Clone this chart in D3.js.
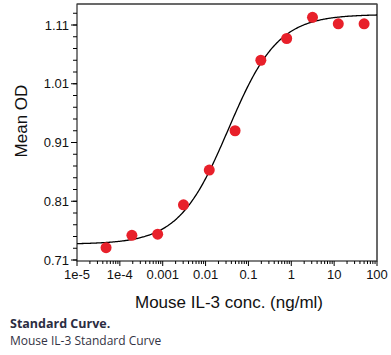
<!DOCTYPE html>
<html><head><meta charset="utf-8">
<script src="https://cdn.jsdelivr.net/npm/d3@7"></script>
<style>
body{margin:0;background:#fff;}
svg{display:block;}
</style></head>
<body>
<svg id="chart" width="391" height="355"></svg>
<script>
// Data
const concentrations = [0.0000477, 0.000191, 0.000763, 0.00305, 0.0122, 0.0488, 0.195, 0.781, 3.125, 12.5, 50];
const meanOD = [0.731, 0.752, 0.754, 0.804, 0.863, 0.930, 1.050, 1.087, 1.123, 1.112, 1.112];
const yTickValues = [0.71, 0.81, 0.91, 1.01, 1.11];
const xTickValues = [1e-5, 1e-4, 1e-3, 1e-2, 1e-1, 1, 10, 100];
const xTickLabels = ["1e-5", "1e-4", "0.001", "0.01", "0.1", "1", "10", "100"];
// 4-parameter logistic fit
const fitBottom = 0.737, fitTop = 1.128, fitEC50 = 0.034, fitHill = 0.75;

const svg = d3.select("#chart");
const pLeft = 77, pRight = 377, pTop = 4, pBottom = 261;

const x = d3.scaleLog().domain([1e-5, 100]).range([pLeft, pRight]);
const y = d3.scaleLinear().domain([0.71, 1.11]).range([260, 25]);
const yMin = y.invert(pBottom), yMax = y.invert(pTop);

// frame
svg.append("rect").attr("x", pLeft).attr("y", pTop).attr("width", pRight - pLeft).attr("height", pBottom - pTop)
  .attr("fill", "none").attr("stroke", "#000").attr("stroke-width", 1);
svg.append("line").attr("x1", pLeft).attr("x2", pRight).attr("y1", pTop).attr("y2", pTop).attr("stroke", "#555");
svg.append("line").attr("x1", pRight).attr("x2", pRight).attr("y1", pTop).attr("y2", pBottom).attr("stroke", "#555");

// y axis
const yMinor = d3.range(0.71, 1.15, 0.02).filter(v => v >= yMin && v <= yMax);
const yAxis = svg.append("g").attr("transform", `translate(${pLeft},0)`);
yAxis.selectAll("line.minor").data(yMinor).join("line")
  .attr("x1", -4).attr("x2", 0).attr("y1", d => y(d)).attr("y2", d => y(d)).attr("stroke", "#000");
yAxis.selectAll("line.major").data(yTickValues).join("line")
  .attr("x1", -6).attr("x2", 0).attr("y1", d => y(d)).attr("y2", d => y(d)).attr("stroke", "#000");
yAxis.selectAll("text").data(yTickValues).join("text")
  .attr("x", -8).attr("y", d => y(d)).attr("dy", "0.35em").attr("text-anchor", "end")
  .attr("font-family", "Liberation Sans, Arial, sans-serif").attr("font-size", 13).attr("fill", "#111")
  .text(d => d.toFixed(2));

// x axis
const xMinor = [];
for (let e = -5; e < 2; e++) for (let m = 2; m <= 9; m++) xMinor.push(m * Math.pow(10, e));
const xAxis = svg.append("g").attr("transform", `translate(0,${pBottom})`);
xAxis.selectAll("line.minor").data(xMinor).join("line")
  .attr("x1", d => x(d)).attr("x2", d => x(d)).attr("y1", 0).attr("y2", 3).attr("stroke", "#000");
xAxis.selectAll("line.major").data(xTickValues).join("line")
  .attr("x1", d => x(d)).attr("x2", d => x(d)).attr("y1", 0).attr("y2", 5).attr("stroke", "#000");
xAxis.selectAll("text").data(xTickValues).join("text")
  .attr("x", d => x(d)).attr("y", 18).attr("text-anchor", "middle")
  .attr("font-family", "Liberation Sans, Arial, sans-serif").attr("font-size", 13).attr("fill", "#111")
  .text((d, i) => xTickLabels[i]);

// fitted curve
const curvePts = d3.range(-5, 2.0001, 0.02).map(l => {
  const c = Math.pow(10, l);
  return [c, fitBottom + (fitTop - fitBottom) / (1 + Math.pow(fitEC50 / c, fitHill))];
});
svg.append("path").datum(curvePts)
  .attr("fill", "none").attr("stroke", "#000").attr("stroke-width", 1.3)
  .attr("d", d3.line().x(d => x(d[0])).y(d => y(d[1])));

// points
svg.selectAll("circle.pt").data(concentrations).join("circle")
  .attr("cx", d => x(d)).attr("cy", (d, i) => y(meanOD[i])).attr("r", 5.5)
  .attr("fill", "#e8202a");

// axis titles
svg.append("text").attr("transform", "translate(27,121) rotate(-90)")
  .attr("text-anchor", "middle").attr("font-family", "Liberation Sans, Arial, sans-serif")
  .attr("font-size", 17).attr("fill", "#111").text("Mean OD");
svg.append("text").attr("x", 229).attr("y", 308).attr("text-anchor", "middle")
  .attr("font-family", "Liberation Sans, Arial, sans-serif")
  .attr("font-size", 17).attr("fill", "#111").text("Mouse IL-3 conc. (ng/ml)");

// caption
svg.append("text").attr("x", 10).attr("y", 328).attr("font-family", "Open Sans, sans-serif")
  .attr("font-size", 12.5).attr("font-weight", "bold").attr("fill", "#2b2d42").text("Standard Curve.");
svg.append("text").attr("x", 10).attr("y", 345).attr("font-family", "Open Sans, sans-serif")
  .attr("font-size", 12).attr("fill", "#333344").text("Mouse IL-3 Standard Curve");
</script>
</body></html>
